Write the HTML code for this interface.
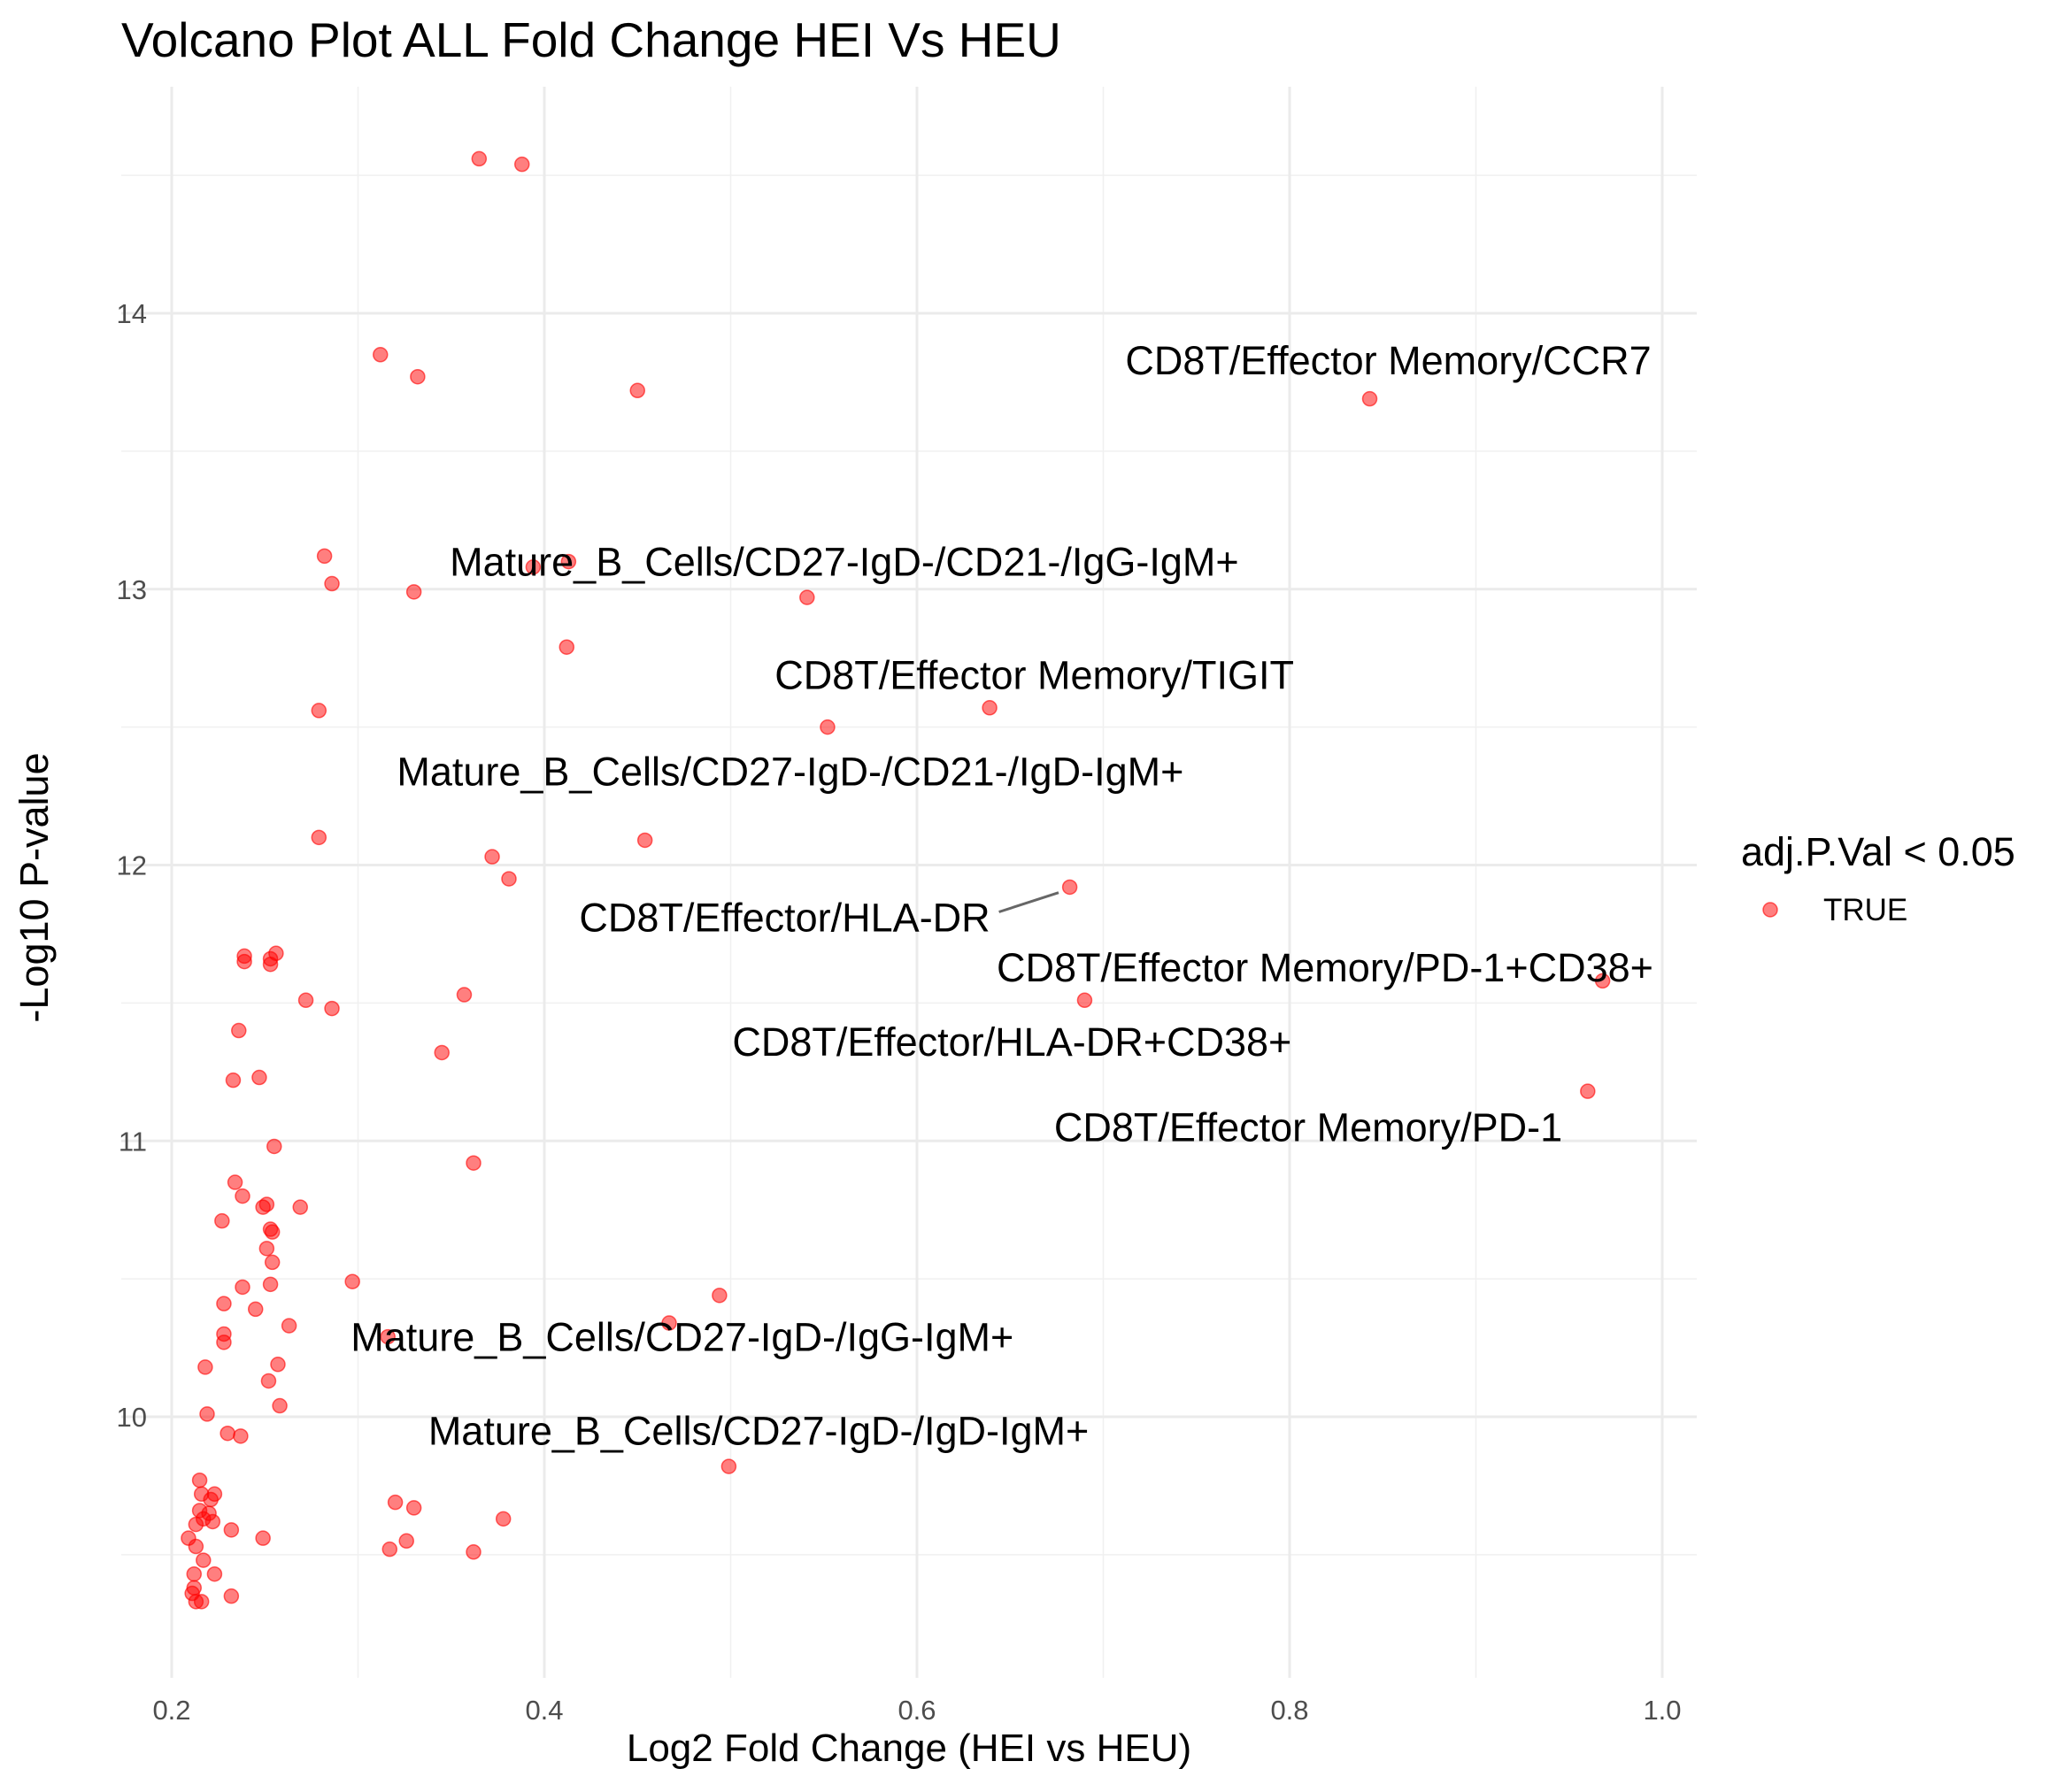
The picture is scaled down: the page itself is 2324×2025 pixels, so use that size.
<!DOCTYPE html>
<html><head><meta charset="utf-8"><style>
html,body{margin:0;padding:0;background:#fff;}
svg{display:block;font-family:"Liberation Sans",sans-serif;}
</style></head><body>
<svg id="chart" width="2324" height="2025" viewBox="0 0 2324 2025">
<text x="137" y="64" font-size="55" fill="#000">Volcano Plot ALL Fold Change HEI Vs HEU</text>
<g id="grid"></g>
<g id="points"></g>
<g id="labels"></g>
<g id="axes"></g>
<text transform="translate(54,1003) rotate(-90)" text-anchor="middle" font-size="45" fill="#000">-Log10 P-value</text>
<text x="1027" y="1990" text-anchor="middle" font-size="44" fill="#000">Log2 Fold Change (HEI vs HEU)</text>
<g>
<text x="1967" y="978" font-size="45" fill="#000">adj.P.Val &lt; 0.05</text>
<circle cx="2000" cy="1028" r="8" fill="rgba(255,0,0,0.5)" stroke="rgba(255,0,0,0.6)" stroke-width="1.5"/>
<text x="2060" y="1040" font-size="35" fill="#000">TRUE</text>
</g>
</svg>
<script>
const xVals=[0.365,0.388,0.312,0.332,0.450,0.843,0.282,0.413,0.394,0.286,0.330,0.541,0.412,0.639,0.279,0.552,0.279,0.454,0.372,0.381,0.682,0.239,0.239,0.256,0.253,0.253,0.968,0.357,0.272,0.690,0.286,0.236,0.345,0.247,0.233,0.960,0.255,0.362,0.234,0.238,0.269,0.251,0.249,0.227,0.253,0.254,0.251,0.254,0.297,0.238,0.253,0.494,0.245,0.228,0.467,0.263,0.228,0.316,0.228,0.257,0.218,0.252,0.258,0.219,0.230,0.237,0.499,0.215,0.216,0.223,0.320,0.330,0.221,0.215,0.220,0.217,0.378,0.222,0.213,0.232,0.209,0.249,0.326,0.213,0.317,0.362,0.217,0.212,0.223,0.212,0.211,0.232,0.213,0.216];
const yVals=[14.56,14.54,13.85,13.77,13.72,13.69,13.12,13.10,13.08,13.02,12.99,12.97,12.79,12.57,12.56,12.50,12.10,12.09,12.03,11.95,11.92,11.67,11.65,11.68,11.66,11.64,11.58,11.53,11.51,11.51,11.48,11.40,11.32,11.23,11.22,11.18,10.98,10.92,10.85,10.80,10.76,10.77,10.76,10.71,10.68,10.67,10.61,10.56,10.49,10.47,10.48,10.44,10.39,10.41,10.34,10.33,10.30,10.29,10.27,10.19,10.18,10.13,10.04,10.01,9.94,9.93,9.82,9.77,9.72,9.72,9.69,9.67,9.70,9.66,9.65,9.63,9.63,9.62,9.61,9.59,9.56,9.56,9.55,9.53,9.52,9.51,9.48,9.43,9.43,9.38,9.36,9.35,9.33,9.33];
const xTicks=[0.2,0.4,0.6,0.8,1.0];
const xTickLabels=["0.2","0.4","0.6","0.8","1.0"];
const yTicks=[10,11,12,13,14];
const yTickLabels=["10","11","12","13","14"];
const labelTexts=["CD8T/Effector Memory/CCR7","Mature_B_Cells/CD27-IgD-/CD21-/IgG-IgM+","CD8T/Effector Memory/TIGIT","Mature_B_Cells/CD27-IgD-/CD21-/IgD-IgM+","CD8T/Effector/HLA-DR","CD8T/Effector Memory/PD-1+CD38+","CD8T/Effector/HLA-DR+CD38+","CD8T/Effector Memory/PD-1","Mature_B_Cells/CD27-IgD-/IgG-IgM+","Mature_B_Cells/CD27-IgD-/IgD-IgM+"];
const labelX=[0.853,0.561,0.663,0.532,0.529,0.819,0.651,0.810,0.474,0.515];
const labelY=[13.83,13.10,12.69,12.34,11.81,11.63,11.36,11.05,10.29,9.95];

const NS="http://www.w3.org/2000/svg";
function sx(v){return 194+(v-0.2)/0.8*1684;}
function sy(v){return 1601-(v-10)/4*1247;}
function mk(tag,attrs,parent){const e=document.createElementNS(NS,tag);for(const k in attrs)e.setAttribute(k,attrs[k]);parent.appendChild(e);return e;}
const grid=document.getElementById('grid'),axes=document.getElementById('axes');
const L=137,R=1917,T=98,B=1896;
for(let m=0.3;m<1.0;m+=0.2){const g=mk('line',{x1:sx(m),x2:sx(m),y1:T,y2:B,stroke:'#f0f0f0','stroke-width':1.5},grid);

}
for(let m=9.5;m<14.6;m+=1){const g=mk('line',{x1:L,x2:R,y1:sy(m),y2:sy(m),stroke:'#f0f0f0','stroke-width':1.5},grid);

}
xTicks.forEach((t,i)=>{const g=mk('line',{x1:sx(t),x2:sx(t),y1:T,y2:B,stroke:'#ebebeb','stroke-width':3},grid);


const tx=mk('text',{x:sx(t),y:1943,'text-anchor':'middle','font-size':31,fill:'#4d4d4d'},axes);tx.textContent=xTickLabels[i];

});
yTicks.forEach((t,i)=>{const g=mk('line',{x1:L,x2:R,y1:sy(t),y2:sy(t),stroke:'#ebebeb','stroke-width':3},grid);


const tx=mk('text',{x:166,y:sy(t)+11,'text-anchor':'end','font-size':31,fill:'#4d4d4d'},axes);tx.textContent=yTickLabels[i];

});
const pts=document.getElementById('points');
xVals.forEach((x,i)=>{const c=mk('circle',{cx:sx(x),cy:sy(yVals[i]),r:8,fill:'rgba(255,0,0,0.5)',stroke:'rgba(255,0,0,0.6)','stroke-width':1.5},pts);

});
const lab=document.getElementById('labels');
const seg=mk('line',{x1:sx(0.644),y1:sy(11.83),x2:sx(0.676),y2:sy(11.90),stroke:'#666','stroke-width':3},lab);


labelTexts.forEach((s,i)=>{const t=mk('text',{x:sx(labelX[i]),y:sy(labelY[i])+16,'text-anchor':'middle','font-size':45,fill:'#000'},lab);t.textContent=s;

});
</script>
</body></html>
